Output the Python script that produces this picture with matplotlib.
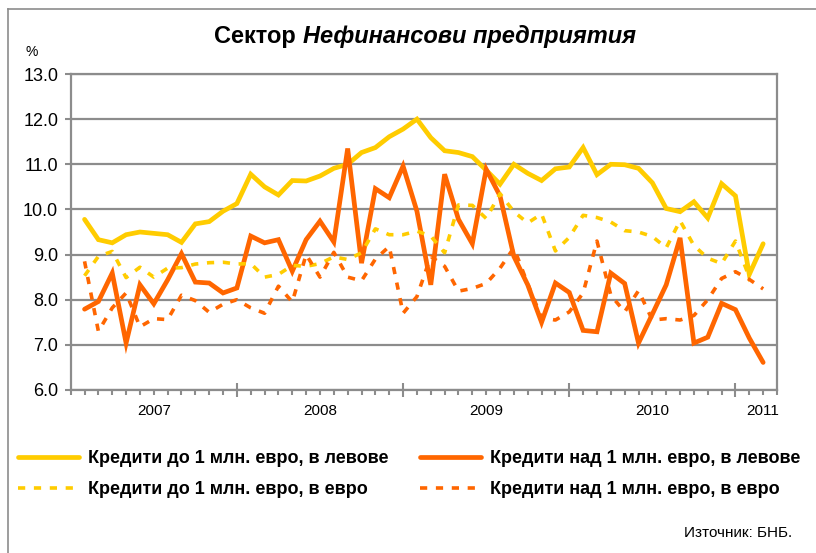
import numpy as np
import matplotlib
matplotlib.use("Agg")
import matplotlib.pyplot as plt
from matplotlib.lines import Line2D

plt.rcParams['font.family'] = ['Liberation Sans', 'DejaVu Sans']

# monthly points, 2007 - 2011
yellow_solid = [9.78, 9.33, 9.26, 9.44, 9.50, 9.47, 9.44, 9.27, 9.68, 9.73,
                9.96, 10.13, 10.78, 10.50, 10.32, 10.64, 10.63, 10.74, 10.91, 11.00,
                11.26, 11.37, 11.61, 11.78, 12.00, 11.59, 11.30, 11.26, 11.17, 10.87,
                10.56, 11.00, 10.80, 10.64, 10.90, 10.94, 11.37, 10.77, 11.00, 10.99,
                10.91, 10.59, 10.02, 9.95, 10.17, 9.81, 10.57, 10.30, 8.56, 9.24]
orange_solid = [7.79, 7.96, 8.59, 7.04, 8.33, 7.91, 8.44, 9.02, 8.39, 8.37,
                8.15, 8.26, 9.41, 9.26, 9.33, 8.63, 9.33, 9.74, 9.28, 11.35,
                8.81, 10.46, 10.26, 10.96, 9.96, 8.33, 10.78, 9.78, 9.24, 10.89,
                10.30, 8.96, 8.33, 7.50, 8.37, 8.16, 7.32, 7.29, 8.59, 8.36,
                7.04, 7.68, 8.33, 9.37, 7.04, 7.17, 7.92, 7.78, 7.15, 6.61]
yellow_dash = [8.53, 8.96, 9.07, 8.49, 8.72, 8.50, 8.70, 8.71, 8.79, 8.82,
               8.83, 8.79, 8.80, 8.50, 8.56, 8.76, 8.74, 8.80, 8.95, 8.89,
               9.04, 9.57, 9.44, 9.44, 9.52, 9.41, 9.04, 10.10, 10.09, 9.80,
               10.35, 9.95, 9.70, 9.90, 9.08, 9.38, 9.87, 9.82, 9.72, 9.53,
               9.50, 9.40, 9.15, 9.75, 9.20, 8.92, 8.80, 9.30, 8.50, np.nan]
orange_dash = [8.85, 7.30, 7.82, 8.15, 7.40, 7.58, 7.56, 8.10, 7.98, 7.72,
               7.90, 8.00, 7.82, 7.70, 8.30, 7.95, 9.00, 8.50, 9.05, 8.50,
               8.42, 8.90, 9.18, 7.70, 8.07, 8.96, 8.74, 8.19, 8.25, 8.36,
               8.70, 9.15, 8.35, 7.60, 7.55, 7.73, 8.15, 9.30, 8.10, 7.73,
               8.20, 7.55, 7.58, 7.55, 7.65, 8.00, 8.47, 8.62, 8.45, 8.24]
years = ['2007', '2008', '2009', '2010', '2011']
year_pos = [6, 18, 30, 42, 50]
labels = ['Кредити до 1 млн. евро, в левове', 'Кредити до 1 млн. евро, в евро',
          'Кредити над 1 млн. евро, в левове', 'Кредити над 1 млн. евро, в евро']

YEL = '#FFCC00'
ORG = '#FF6600'
GRID = '#8c8c8c'

W, H = 816, 553
fig = plt.figure(figsize=(W / 100, H / 100), dpi=100)
ax = fig.add_axes([70.7 / W, 1 - 390 / H, (777 - 70.7) / W, (390 - 74) / H])

x = np.arange(1, len(yellow_solid) + 1)
l1, = ax.plot(x, yellow_solid, color=YEL, lw=3.4, solid_joinstyle='miter', solid_capstyle='round')
l2, = ax.plot(x, orange_solid, color=ORG, lw=3.4, solid_joinstyle='miter', solid_capstyle='round')
l3, = ax.plot(x, yellow_dash, color=YEL, lw=2.6, dashes=(2.0, 2.4))
l4, = ax.plot(x, orange_dash, color=ORG, lw=2.6, dashes=(2.0, 2.4))

ax.set_xlim(0, 51)
ax.set_ylim(6, 13)
ax.set_yticks(np.arange(6, 13.1, 1.0))
ax.set_yticklabels(['%.1f' % v for v in np.arange(6, 13.1, 1.0)], fontsize=13)
ax.yaxis.grid(True, color=GRID, lw=1.6)
ax.set_axisbelow(True)
ax.tick_params(axis='y', length=4, width=1.5, color=GRID, pad=5)

ax.set_xticks([12, 24, 36, 48])
ax.set_xticklabels([])
ax.set_xticks(np.arange(0, 52), minor=True)
ax.tick_params(axis='x', which='major', direction='inout', length=10, width=1.5, color=GRID)
ax.tick_params(axis='x', which='minor', direction='out', length=3.5, width=1.5, color=GRID)
for p, t in zip(year_pos, years):
    ax.text(p, -0.065, t, transform=ax.get_xaxis_transform(), ha='center', va='center', fontsize=11)

for s in ax.spines.values():
    s.set_color(GRID)
    s.set_linewidth(1.6)

fig.text(32 / W, 1 - 52 / H, '%', fontsize=10, ha='center', va='center')

# title with mixed style
fig.canvas.draw()
r = fig.canvas.get_renderer()
ty = 1 - 36 / H
t1 = fig.text(0, ty, 'Сектор ', fontsize=17, fontweight='bold', va='center')
t2 = fig.text(0, ty, 'Нефинансови предприятия', fontsize=17, fontweight='bold',
              style='italic', va='center')
w1 = t1.get_window_extent(r).width
w2 = t2.get_window_extent(r).width
x0 = 425 - (w1 + w2) / 2
t1.set_x(x0 / W)
t2.set_x((x0 + w1) / W)

fig.legend([l1, l3, l2, l4], labels, ncol=2, loc='upper left',
           bbox_to_anchor=(18 / W, 1 - 450 / H), frameon=False,
           prop={'weight': 'bold', 'size': 13}, handlelength=3.4,
           handletextpad=0.5, columnspacing=1.7, labelspacing=0.78,
           borderaxespad=0, borderpad=0)

fig.text(792 / W, 1 - 533 / H, 'Източник: БНБ.', fontsize=11, ha='right', va='center')

# frame around figure (top and left)
fig.add_artist(Line2D([8 / W, 1], [1 - 9 / H, 1 - 9 / H], color=GRID, lw=1.2, transform=fig.transFigure))
fig.add_artist(Line2D([8 / W, 8 / W], [0, 1 - 9 / H], color=GRID, lw=1.2, transform=fig.transFigure))

fig.savefig('out.png', dpi=100)
